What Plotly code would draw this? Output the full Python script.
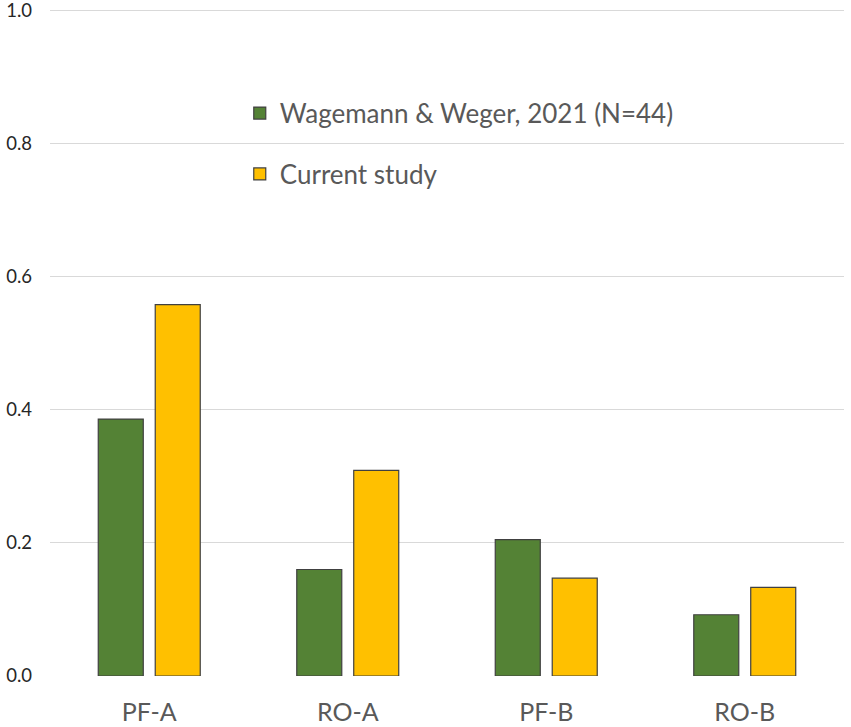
import plotly.graph_objects as go

categories = ["PF-A", "RO-A", "PF-B", "RO-B"]
wagemann = [0.386, 0.160, 0.205, 0.092]
current = [0.558, 0.309, 0.147, 0.133]
series_names = ["Wagemann &amp; Weger, 2021 (N=44)", "Current study"]
y_ticks = [0.0, 0.2, 0.4, 0.6, 0.8, 1.0]
y_tick_labels = ["0.0", "0.2", "0.4", "0.6", "0.8", "1.0"]

fig = go.Figure()
fig.add_trace(go.Bar(x=categories, y=wagemann, name=series_names[0], legendgroup="a",
                     marker=dict(color="#548235", line=dict(color="#404040", width=1.2))))
fig.add_trace(go.Bar(x=categories, y=current, name=series_names[1], legendgroup="b",
                     marker=dict(color="#FFC000", line=dict(color="#404040", width=1.2))))

fig.update_layout(
    width=851, height=727,
    margin=dict(l=50, r=7, t=9, b=51, autoexpand=False),
    paper_bgcolor="white", plot_bgcolor="white",
    barmode="group", bargap=0.426, bargroupgap=0.21,
    font=dict(family="Lato, Open Sans, sans-serif", color="#595959"),
    showlegend=True,
    legend=dict(x=0.239, y=0.879, xanchor="left", yanchor="top",
                font=dict(size=26, color="#595959"), tracegroupgap=24,
                bgcolor="rgba(0,0,0,0)", traceorder="grouped"),
)
fig.update_yaxes(range=[0, 1.002], tickvals=y_ticks, ticktext=y_tick_labels,
                 showgrid=True, gridcolor="#D9D9D9", gridwidth=1.3,
                 zeroline=False, showline=False, automargin=False,
                 ticklabeloverflow="allow",
                 tickfont=dict(size=18.5, color="#262626"), ticklabelstandoff=17)
fig.update_xaxes(showgrid=False, showline=False, zeroline=False, automargin=False,
                 tickfont=dict(size=25, color="#595959"), ticklabelstandoff=19)

fig.write_html("out.html", config={"displayModeBar": False},
               post_script="document.body.style.margin='0';document.body.style.overflow='hidden';")
